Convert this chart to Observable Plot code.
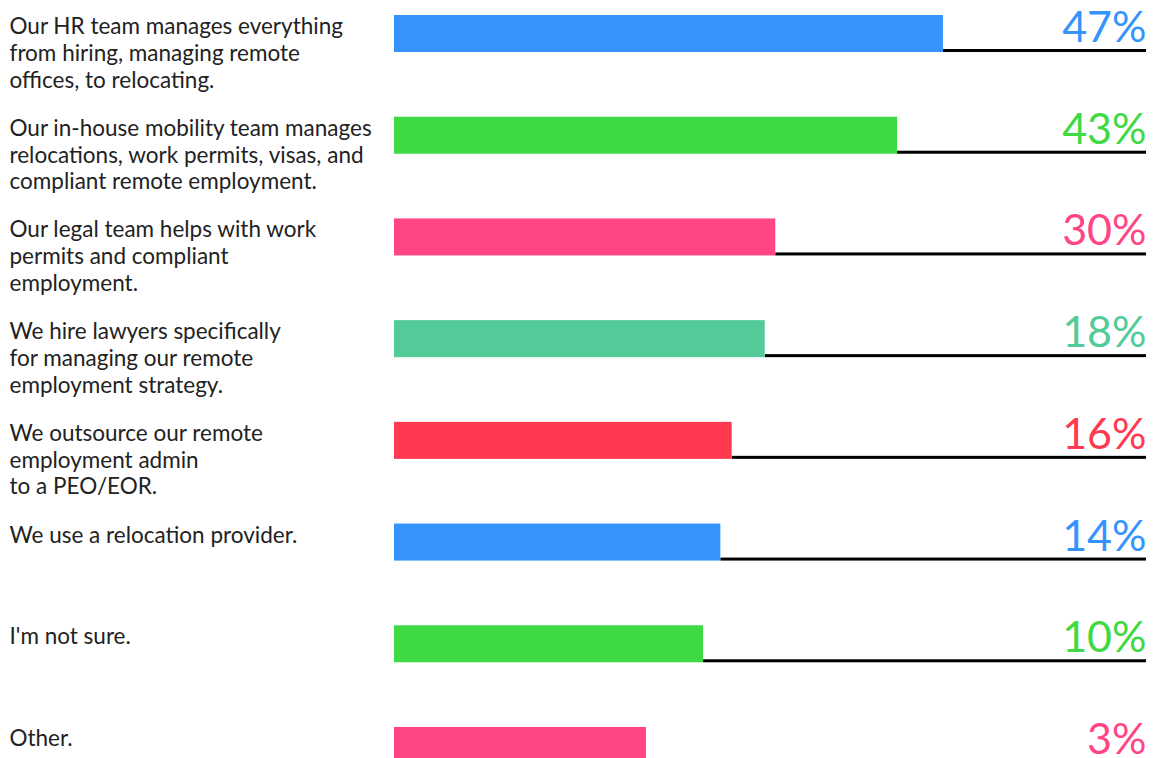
<!DOCTYPE html>
<html>
<head>
<meta charset="utf-8">
<script src="https://cdn.jsdelivr.net/npm/d3@7"></script>
<script src="https://cdn.jsdelivr.net/npm/@observablehq/plot@0.6"></script>
<style>
  html, body { margin: 0; padding: 0; background: #fff; overflow: hidden; }
  #chart svg { display: block; }
</style>
</head>
<body>
<div id="chart"></div>
<script>
// Categories (answer options), in display order
const answers = [
  "Our HR team manages everything\nfrom hiring, managing remote\noffices, to relocating.",
  "Our in-house mobility team manages\nrelocations, work permits, visas, and\ncompliant remote employment.",
  "Our legal team helps with work\npermits and compliant\nemployment.",
  "We hire lawyers specifically\nfor managing our remote\nemployment strategy.",
  "We outsource our remote\nemployment admin\nto a PEO/EOR.",
  "We use a relocation provider.",
  "I'm not sure.",
  "Other."
];
// Share of respondents (%) shown as labels
const shares = [47, 43, 30, 18, 16, 14, 10, 3];
// Bar extent on the 0–100 track (bars are not drawn to scale in the original)
const barExtent = [73.0, 66.9, 50.7, 49.3, 44.9, 43.4, 41.1, 33.5];

const palette = ["#3594fc", "#3ed943", "#ff4586", "#52cb98", "#ff3950", "#3594fc", "#3ed943", "#ff4586"];

const rows = answers.map((a, i) => ({answer: a, share: shares[i], bar: barExtent[i]}));

const chart = Plot.plot({
  width: 1158,
  height: 770,
  marginLeft: 394,
  marginRight: 12,
  marginTop: 15,
  marginBottom: 6,
  style: {fontFamily: "Lato, sans-serif", background: "#fff"},
  x: {domain: [0, 100], axis: null},
  y: {domain: answers, axis: null, paddingInner: 0.636, paddingOuter: 0, round: false},
  color: {domain: answers, range: palette},
  marks: [
    // baseline track from bar end to the right edge
    Plot.barX(rows, {y: "answer", x1: "bar", x2: () => 100, fill: "#000", insetTop: 34}),
    // bars
    Plot.barX(rows, {y: "answer", x1: () => 0, x2: "bar", fill: "answer"}),
    // percentage labels
    Plot.text(rows, {
      y: "answer", x: () => 100, text: d => d.share + "%",
      fill: "answer", textAnchor: "end", lineAnchor: "bottom",
      fontSize: 43, dy: 8
    }),
    // answer labels
    Plot.text(rows, {
      y: "answer", text: "answer", frameAnchor: "left", dx: -385,
      textAnchor: "start", lineAnchor: "top", lineHeight: 1.19,
      fontSize: 22.5, fill: "#222", dy: -19
    })
  ]
});
document.getElementById("chart").appendChild(chart);
</script>
</body>
</html>
